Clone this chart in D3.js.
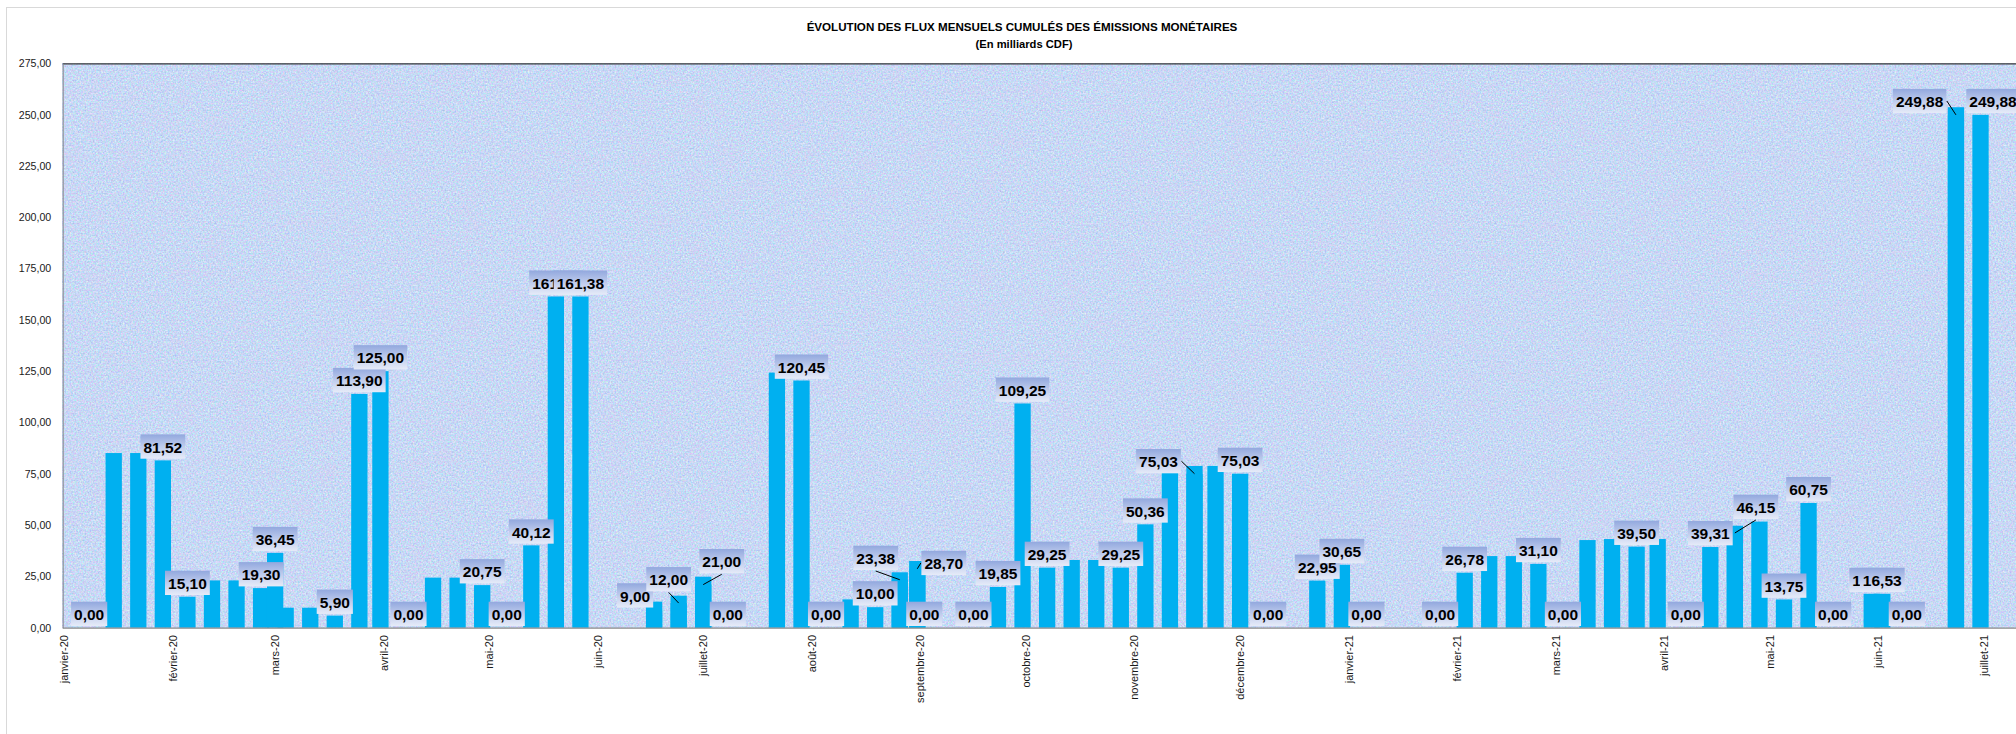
<!DOCTYPE html>
<html><head><meta charset="utf-8">
<script src="https://cdn.jsdelivr.net/npm/d3@7"></script>
<style>html,body{margin:0;padding:0;background:#fff;overflow:hidden}</style>
</head><body>
<svg id="c" width="2016" height="734"></svg>
<script>
// ---------- DATA ----------
const chartTitle = "ÉVOLUTION DES FLUX MENSUELS CUMULÉS DES ÉMISSIONS MONÉTAIRES";
const chartSubtitle = "(En milliards CDF)";
const yTicks = [0, 25, 50, 75, 100, 125, 150, 175, 200, 225, 250, 275];
const monthLabels = ["janvier-20","février-20","mars-20","avril-20","mai-20","juin-20","juillet-20","août-20",
  "septembre-20","octobre-20","novembre-20","décembre-20","janvier-21","février-21","mars-21","avril-21","mai-21","juin-21","juillet-21"];
const monthDates = ["2020-01-01","2020-02-01","2020-03-01","2020-04-01","2020-05-01","2020-06-01","2020-07-01","2020-08-01",
  "2020-09-01","2020-10-01","2020-11-01","2020-12-01","2021-01-01","2021-02-01","2021-03-01","2021-04-01","2021-05-01","2021-06-01","2021-07-01"];

// emissions without data label
const fluxDates = ["2020-01-15","2020-01-22","2020-02-12","2020-02-19","2020-03-04","2020-03-11","2020-04-15","2020-04-22",
  "2020-06-17","2020-06-24","2020-07-01","2020-07-22","2020-08-12","2020-08-26","2020-08-31","2020-10-14","2020-10-21",
  "2020-11-11","2020-11-18","2020-11-24","2021-02-10","2021-02-17","2021-03-10","2021-03-17","2021-03-30","2021-04-21",
  "2021-04-28","2021-06-23"];
const fluxValues = [85.10,85.10,23.05,23.05,9.75,9.75,24.40,24.40,
  12.70,15.60,24.85,124.30,13.80,27.00,32.50,33.00,33.00,
  78.80,78.80,78.80,34.90,34.90,42.70,43.20,43.20,49.70,
  51.70,253.60];

// emissions with data label
const labelDates = ["2020-01-08","2020-01-29","2020-02-05","2020-02-26","2020-03-01","2020-03-18","2020-03-25","2020-03-31",
  "2020-04-08","2020-04-29","2020-05-06","2020-05-13","2020-05-20","2020-05-27","2020-06-17","2020-06-24","2020-07-01",
  "2020-07-08","2020-07-29","2020-08-05","2020-08-19","2020-08-26","2020-08-31","2020-09-02","2020-09-16","2020-09-23",
  "2020-09-30","2020-10-07","2020-10-28","2020-11-04","2020-11-18","2020-12-01","2020-12-09","2020-12-23","2020-12-30",
  "2021-01-06","2021-01-27","2021-02-03","2021-02-24","2021-03-03","2021-03-24","2021-04-07","2021-04-14","2021-04-21",
  "2021-05-05","2021-05-12","2021-05-19","2021-05-30","2021-06-02","2021-06-09","2021-06-23","2021-06-30"];
const labelValues = [0,81.52,15.10,19.30,36.45,5.90,113.90,125.00,
  0,20.75,0,40.12,161.38,161.38,9.00,12.00,21.00,
  0,120.45,0,10.00,23.38,28.70,0,0,19.85,
  109.25,29.25,29.25,50.36,75.03,75.03,0,22.95,30.65,
  0,0,26.78,31.10,0,39.50,0,39.31,46.15,
  13.75,60.75,0,16.53,16.53,0,249.88,249.88];

// ---------- LAYOUT (manually dragged labels) ----------
const labelMoves = {14:[-19,0,false],15:[-10,-10,true],16:[18.5,-9.6,true],21:[-24,-8,true],22:[26.5,8,true],
  30:[-36,1.3,true],43:[21,-12.3,true],50:[-36.3,0,true],51:[12.5,0,false]};

const W = 2016, H = 734;
const plot = {left: 62.7, top: 63.3, bottom: 627.7, right: 2060};
const parse = d3.utcParse("%Y-%m-%d");
const x = d3.scaleUtc().domain([parse("2020-01-01"), parse("2021-06-30")]).range([64.6, 1980.5]);
const y = d3.scaleLinear().domain([0, 275]).range([plot.bottom, plot.top]);
const barW = 16.3;
const loc = d3.formatLocale({decimal: ",", thousands: " ", grouping: [3], currency: ["", ""]});
const fmt = loc.format(".2f");

const svg = d3.select("#c");
const defs = svg.append("defs");
const f1 = defs.append("filter").attr("id","grain").attr("x",0).attr("y",0).attr("width","100%").attr("height","100%")
  .attr("color-interpolation-filters","sRGB");
f1.append("feTurbulence").attr("type","fractalNoise").attr("baseFrequency","0.6").attr("numOctaves",2).attr("seed",4);
f1.append("feColorMatrix").attr("type","matrix")
  .attr("values","0.42 0 0 0 0.57  0 0.36 0 0 0.67  0 0 0.2 0 0.86  0 0 0 0 1");
const f2 = defs.append("filter").attr("id","blotch").attr("x",0).attr("y",0).attr("width","100%").attr("height","100%")
  .attr("color-interpolation-filters","sRGB");
f2.append("feTurbulence").attr("type","fractalNoise").attr("baseFrequency","0.035 0.06").attr("numOctaves",3).attr("seed",9);
f2.append("feColorMatrix").attr("type","matrix")
  .attr("values","0 0 0 0 0.86  0 0 0 0 0.78  0 0 0 0 0.94  1.8 0 0 0 -0.84");
const grad = defs.append("linearGradient").attr("id","lblg").attr("x1",0).attr("y1",0).attr("x2",0).attr("y2",1);
grad.append("stop").attr("offset","0").attr("stop-color","#92a8de");
grad.append("stop").attr("offset","0.55").attr("stop-color","#c3cfee");
grad.append("stop").attr("offset","1").attr("stop-color","#e6ebf8");

// chart area
svg.append("rect").attr("x",6.5).attr("y",7.5).attr("width",2100).attr("height",900)
  .attr("fill","#fff").attr("stroke","#d9d9d9");

// plot area
const pw = plot.right - plot.left, ph = plot.bottom - plot.top;
svg.append("rect").attr("x",plot.left).attr("y",plot.top).attr("width",pw).attr("height",ph)
  .attr("fill","#c6d6f4").attr("filter","url(#grain)");
svg.append("rect").attr("x",plot.left).attr("y",plot.top).attr("width",pw).attr("height",ph)
  .attr("fill","#fff").attr("filter","url(#blotch)").attr("opacity",0.3);
svg.append("line").attr("x1",plot.left).attr("x2",plot.right).attr("y1",plot.top+0.5).attr("y2",plot.top+0.5)
  .attr("stroke","#3a3a3a").attr("stroke-width",1.2);

// titles
svg.append("text").attr("x",1022).attr("y",30.7).attr("text-anchor","middle")
  .attr("font-family","'Liberation Sans', Arial, sans-serif").attr("font-weight","bold").attr("font-size",11.6)
  .text(chartTitle);
svg.append("text").attr("x",1024).attr("y",47.5).attr("text-anchor","middle")
  .attr("font-family","'Liberation Sans', Arial, sans-serif").attr("font-weight","bold").attr("font-size",11.2)
  .text(chartSubtitle);

// y axis
const yAxis = d3.axisLeft(y).tickValues(yTicks).tickFormat(fmt).tickSize(0).tickPadding(11.5);
const gy = svg.append("g").attr("transform",`translate(${plot.left},0)`).call(yAxis);
gy.select(".domain").attr("stroke","#8a8a8a");
gy.selectAll("text").attr("font-family","'Liberation Sans', Arial, sans-serif").attr("font-size",10.6).attr("fill","#1a1a1a");

// bars
const bars = svg.append("g");
const all = fluxDates.map((d,i)=>({d:parse(d), v:fluxValues[i]}))
  .concat(labelDates.map((d,i)=>({d:parse(d), v:labelValues[i]})));
bars.selectAll("rect").data(all.filter(p=>p.v>0)).join("rect")
  .attr("x",p=>x(p.d)-barW/2).attr("width",barW)
  .attr("y",p=>y(p.v)).attr("height",p=>y(0)-y(p.v))
  .attr("fill","#00b0f0");

// x axis
svg.append("line").attr("x1",plot.left).attr("x2",plot.right).attr("y1",plot.bottom+0.5).attr("y2",plot.bottom+0.5)
  .attr("stroke","#8a8a8a").attr("stroke-width",1.2);
const gx = svg.append("g");
gx.selectAll("text").data(monthDates.map((d,i)=>({d:parse(d), t:monthLabels[i]}))).join("text")
  .attr("transform",m=>`translate(${x(m.d)},635) rotate(-90)`)
  .attr("text-anchor","end").attr("dy","0.33em")
  .attr("font-family","'Liberation Sans', Arial, sans-serif").attr("font-size",11).attr("fill","#1a1a1a")
  .text(m=>m.t);

// data labels
const lg = svg.append("g");
const leaders = svg.append("g");
labelDates.forEach((ds,i)=>{
  const v = labelValues[i], px = x(parse(ds)), py = y(v);
  const mv = labelMoves[i] || [0,0,false];
  const g = lg.append("g");
  const t = g.append("text").attr("font-family","'Liberation Sans', Arial, sans-serif")
    .attr("font-weight","bold").attr("font-size",15.5).attr("fill","#000").attr("text-anchor","middle").text(fmt(v));
  const tw = t.node().getComputedTextLength();
  const bw = tw + 6, bh = 24.3;
  const cx = px + mv[0];
  const bottom = py - 1.7 + mv[1];
  const top = bottom - bh;
  g.insert("rect","text").attr("x",cx-bw/2).attr("y",top).attr("width",bw).attr("height",bh).attr("fill","url(#lblg)");
  t.attr("x",cx).attr("y",top+18.3);
  if (mv[2]) {
    let sx, sy;
    if (py > bottom + 3) { sx = cx; sy = bottom + 1; }
    else { sx = px < cx ? cx - bw/2 - 0.5 : cx + bw/2 + 0.5; sy = (top+bottom)/2; }
    leaders.append("line").attr("x1",sx).attr("y1",sy).attr("x2",px).attr("y2",py)
      .attr("stroke","#000").attr("stroke-width",1);
  }
});
</script>
</body></html>
